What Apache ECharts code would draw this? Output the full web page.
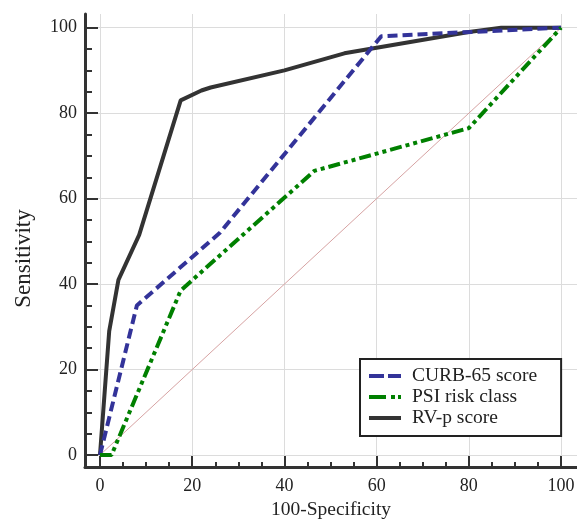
<!DOCTYPE html>
<html>
<head>
<meta charset="utf-8">
<script src="https://cdn.jsdelivr.net/npm/echarts@6/dist/echarts.min.js"></script>
<style>
  html, body { margin: 0; padding: 0; background: #fff; }
  #chart { width: 577px; height: 519px; }
</style>
</head>
<body>
<div id="chart"></div>
<script>
// values
const seriesNames = ["CURB-65 score", "PSI risk class", "RV-p score"];

const curbX = [0, 8, 26, 61, 100];
const curbY = [0, 35, 52, 98, 100];

const psiX = [0, 2.5, 17.5, 46.5, 80, 100];
const psiY = [0, 0, 38.5, 66.5, 76.5, 100];

const rvpX = [0, 2, 4, 8.5, 17.5, 22, 24, 40, 53, 80, 87, 100];
const rvpY = [0, 29, 41, 51.5, 83, 85.3, 86, 90, 94, 99, 100, 100];

const diagX = [0, 100];
const diagY = [0, 100];

const majorTicks = [0, 20, 40, 60, 80, 100];
const minorTicks = [0, 5, 10, 15, 20, 25, 30, 35, 40, 45, 50, 55, 60, 65, 70, 75, 80, 85, 90, 95, 100];

const pairs = (xs, ys) => xs.map((x, i) => [x, ys[i]]);

const font = "'Liberation Serif', 'DejaVu Serif', serif";
const axisColor = "#333";

function mainAxis(min, max, isY) {
  return {
    type: "value",
    min: min,
    max: max,
    position: isY ? "left" : "bottom",
    axisLine: { show: true, onZero: false, lineStyle: { color: axisColor, width: 3 } },
    axisTick: {
      show: true,
      inside: true,
      length: isY ? 13 : 11,
      customValues: majorTicks,
      lineStyle: { color: axisColor, width: 2 },
    },
    axisLabel: {
      customValues: majorTicks,
      margin: isY ? 8 : 10,
      color: "#222",
      fontFamily: font,
      fontSize: 18,
    },
    splitLine: { show: true, lineStyle: { color: "#dcdcdc", width: 1 } },
  };
}

function minorAxis(min, max, isY) {
  return {
    type: "value",
    min: min,
    max: max,
    position: isY ? "left" : "bottom",
    axisLine: { show: false, onZero: false },
    axisTick: {
      show: true,
      inside: true,
      length: isY ? 7 : 5,
      customValues: minorTicks,
      lineStyle: { color: axisColor, width: 2 },
    },
    axisLabel: { show: false },
    splitLine: { show: false },
  };
}

const xMain = mainAxis(-3.25, 103.45, false);
xMain.name = "100-Specificity";
xMain.nameLocation = "middle";
xMain.nameGap = 31;
xMain.nameTextStyle = { color: "#222", fontFamily: font, fontSize: 19.5 };

const yMain = mainAxis(-2.8, 103.2, true);
yMain.name = "Sensitivity";
yMain.nameLocation = "middle";
yMain.nameGap = 50;
yMain.nameTextStyle = { color: "#222", fontFamily: font, fontSize: 23, padding: [0, 36, 0, 0] };

const chart = echarts.init(document.getElementById("chart"));

const option = {
  animation: false,
  backgroundColor: "#fff",
  grid: { left: 85, right: 0, top: 14, bottom: 52, outerBoundsMode: "none", containLabel: false },
  xAxis: [xMain, minorAxis(-3.25, 103.45, false)],
  yAxis: [yMain, minorAxis(-2.8, 103.2, true)],
  legend: {
    data: [
      { name: seriesNames[0], lineStyle: { width: 4, type: [15, 4, 13, 20] } },
      { name: seriesNames[1], lineStyle: { width: 4, type: [17, 5, 4, 3, 4, 20] } },
      { name: seriesNames[2], lineStyle: { width: 4 } },
    ],
    orient: "vertical",
    left: 360,
    top: 359,
    itemWidth: 32,
    itemHeight: 14,
    itemGap: 1,
    padding: [7, 24, 8, 7],
    borderColor: "#222",
    borderWidth: 2,
    backgroundColor: "#fff",
    itemStyle: { opacity: 0 },
    textStyle: { color: "#222", fontFamily: font, fontSize: 19.5, lineHeight: 20, padding: [0, 0, 0, 6] },
  },
  series: [
    {
      name: "diagonal",
      type: "line",
      data: pairs(diagX, diagY),
      symbol: "none",
      silent: true,
      lineStyle: { color: "#d7a3a3", width: 1 },
      z: 1,
    },
    {
      name: seriesNames[0],
      type: "line",
      data: pairs(curbX, curbY),
      symbol: "none",
      color: "#333399",
      lineStyle: { color: "#333399", width: 4, type: [10, 5] },
      z: 3,
    },
    {
      name: seriesNames[1],
      type: "line",
      data: pairs(psiX, psiY),
      symbol: "none",
      color: "#008000",
      lineStyle: { color: "#008000", width: 4, type: [12, 4, 4, 4, 4, 4] },
      z: 3,
    },
    {
      name: seriesNames[2],
      type: "line",
      data: pairs(rvpX, rvpY),
      symbol: "none",
      color: "#333333",
      lineStyle: { color: "#333333", width: 4 },
      z: 2,
    },
  ],
};

chart.setOption(option);
</script>
</body>
</html>
